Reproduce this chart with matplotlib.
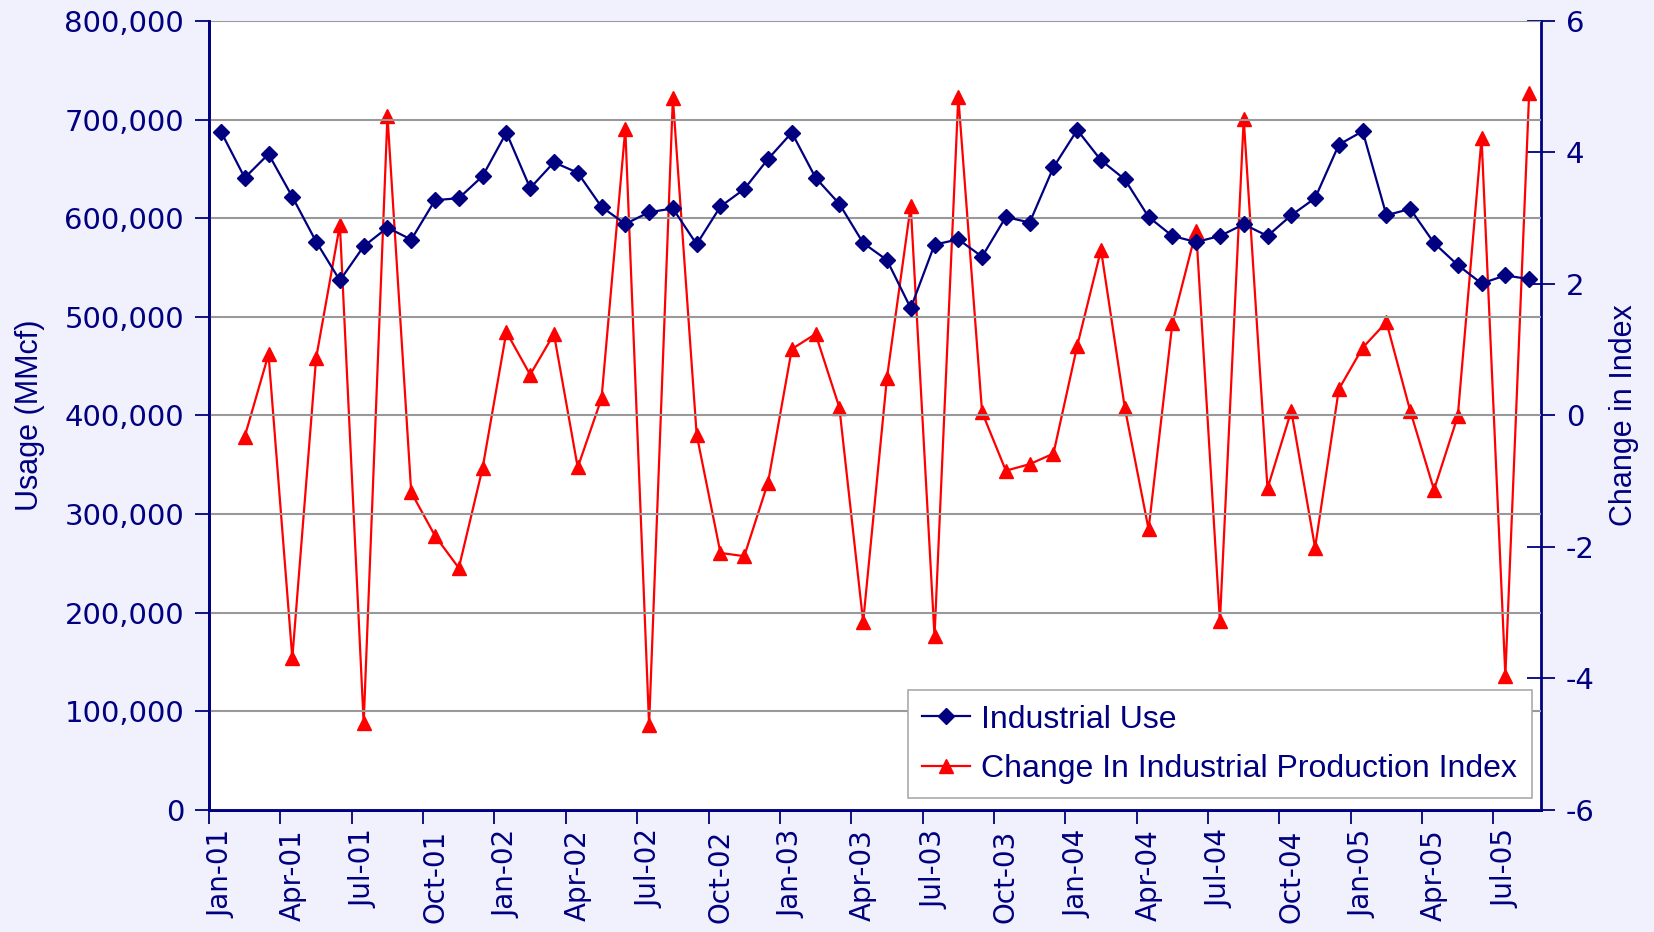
import numpy as np
import pandas as pd
import matplotlib
matplotlib.use('Agg')
import matplotlib.pyplot as plt
from matplotlib.ticker import FuncFormatter, FixedLocator

plt.rcParams['axes.unicode_minus'] = False

# monthly categories Jan-01 .. Aug-05
months = pd.date_range('2001-01-01', periods=56, freq='MS').strftime('%b-%y').tolist()

industrial_use = [687800, 641000, 665100, 621700, 576300, 536900, 571500, 590500, 578300, 618300,
                  620300, 642700, 686800, 630500, 656700, 646100, 611500, 594200, 606100, 609900,
                  573600, 611900, 629500, 660000, 686800, 641000, 614500, 574900, 557600, 508800,
                  573200, 578600, 561000, 601300, 595600, 651600, 689500, 658700, 639400, 601300,
                  582000, 575900, 582000, 593900, 582000, 603000, 620300, 674600, 688200, 603000,
                  609500, 574900, 552500, 533900, 542000, 538300]

# change in industrial production index (no value for Jan-01)
index_change = [np.nan, -0.32, 0.93, -3.69, 0.87, 2.90, -4.68, 4.56, -1.17, -1.83,
                -2.32, -0.80, 1.27, 0.62, 1.24, -0.79, 0.26, 4.36, -4.71, 4.83,
                -0.29, -2.09, -2.14, -1.02, 1.01, 1.24, 0.12, -3.14, 0.57, 3.19,
                -3.36, 4.85, 0.05, -0.84, -0.74, -0.58, 1.06, 2.52, 0.12, -1.73,
                1.40, 2.81, -3.13, 4.51, -1.11, 0.07, -2.01, 0.40, 1.03, 1.42,
                0.07, -1.13, -0.01, 4.22, -3.96, 4.90]

navy = '#000080'
red = '#FF0000'
bg = '#F1F1FD'

fig = plt.figure(figsize=(16.54, 9.32), dpi=100, facecolor=bg)
ax = fig.add_axes([0.1264, 0.1309, 0.8053, 0.8466])
ax2 = ax.twinx()

x = np.arange(len(months))

l1, = ax.plot(x, industrial_use, color=navy, lw=1.6, marker='D', ms=8, label='Industrial Use')
l2, = ax2.plot(x, index_change, color=red, lw=1.6, marker='^', ms=9.5, label='Change In Industrial Production Index')

ax.set_zorder(ax2.get_zorder() + 1)
ax.patch.set_visible(False)
ax2.patch.set_visible(True)
ax2.patch.set_facecolor('white')

ax.set_xlim(-0.5, len(months) - 0.5)
ax.set_ylim(0, 800000)
ax2.set_ylim(-6, 6)
ax.set_yticks(np.arange(0, 800001, 100000))
ax2.set_yticks(np.arange(-6, 7, 2))
ax.yaxis.set_major_formatter(FuncFormatter(lambda v, p: f'{int(v):,}'))

ax.grid(axis='y', color='#999999', lw=1.5)
ax.set_axisbelow(True)

# ticks at category boundaries, labels at points
ax.xaxis.set_major_locator(FixedLocator(np.arange(-0.5, len(months), 3)))
ax.xaxis.set_minor_locator(FixedLocator(x[::3]))
ax.set_xticklabels([])
ax.set_xticklabels([months[i] for i in x[::3]], minor=True)
ax.tick_params(axis='x', which='major', direction='out', length=10, width=1.3, color=navy)
ax.tick_params(axis='x', which='minor', length=0, pad=14, rotation=90,
               labelsize=20, labelcolor=navy, labelfontfamily='DejaVu Sans')
ax.tick_params(axis='y', direction='out', length=10, width=1.3, color=navy,
               labelsize=21, labelcolor=navy, labelfontfamily='DejaVu Sans', pad=8)
ax2.tick_params(axis='y', direction='inout', length=20, width=1.3, color=navy,
                labelsize=21, labelcolor=navy, labelfontfamily='DejaVu Sans', pad=8)

for a in (ax, ax2):
    a.spines['top'].set_visible(False)
    for s in ('left', 'right', 'bottom'):
        a.spines[s].set_color(navy)
        a.spines[s].set_linewidth(2)
ax.spines['right'].set_visible(False)

ax.set_ylabel('Usage (MMcf)', fontsize=22, color=navy, family='Liberation Sans', labelpad=14)
ax2.set_ylabel('Change in Index', fontsize=22, color=navy, family='Liberation Sans', labelpad=10)

leg = ax.legend(handles=[l1, l2], loc='lower right', bbox_to_anchor=(0.993, 0.015),
                frameon=True, fancybox=False, framealpha=1, edgecolor='#AAAAAA',
                handlelength=1.5, prop={'family': 'Liberation Sans', 'size': 23},
                borderpad=0.45, labelspacing=0.6, handletextpad=0.35, borderaxespad=0)
leg.get_frame().set_linewidth(1.2)
for t in leg.get_texts():
    t.set_color(navy)

fig.savefig('out.png', dpi=100, facecolor=bg)
